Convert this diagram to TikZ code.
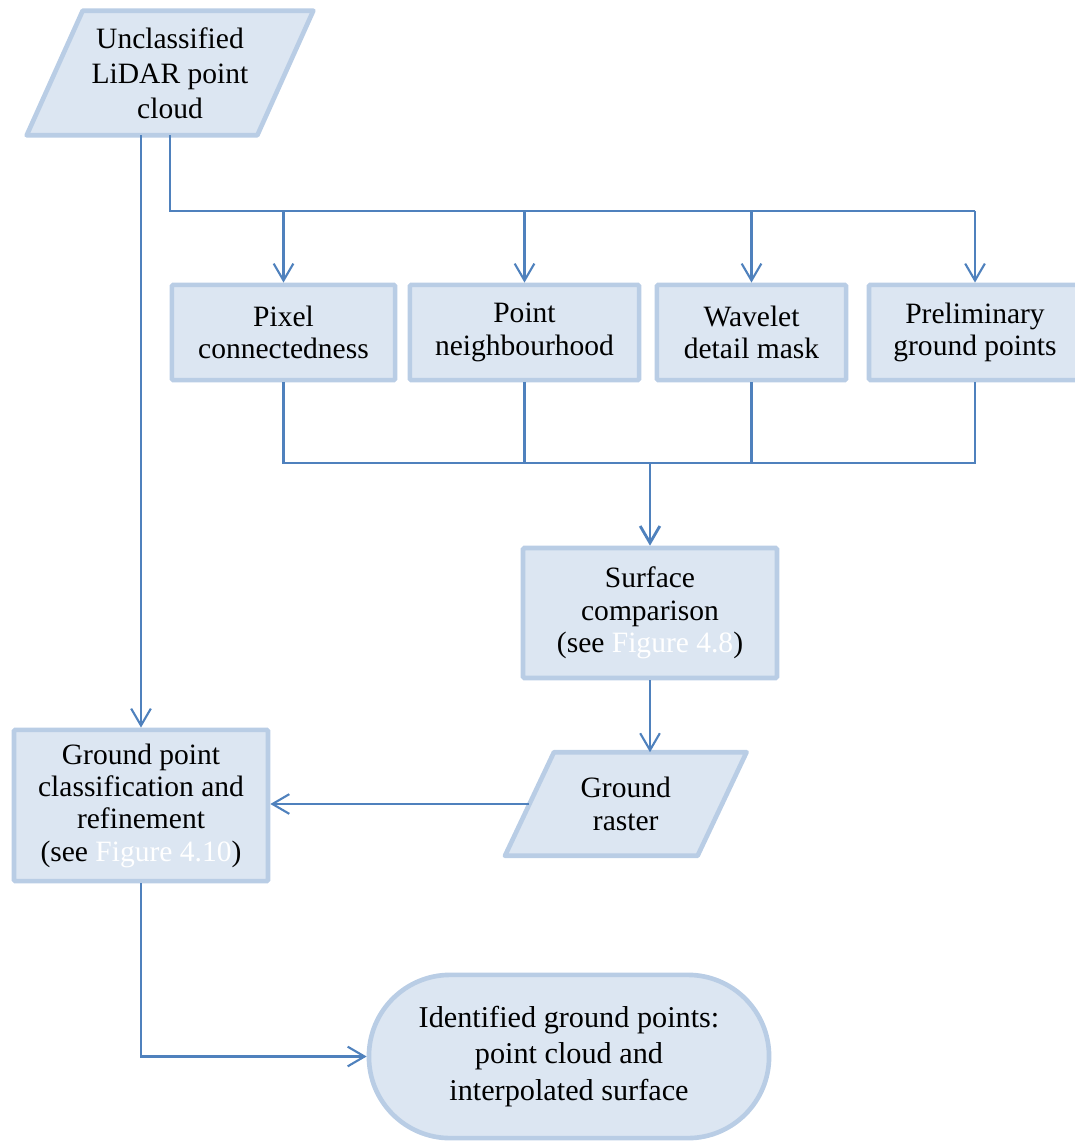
\documentclass[tikz,border=0pt]{standalone}
\usepackage{fontspec}
\setmainfont{Liberation Serif}
\usepackage{xcolor}
\usepackage{tikz}
\usetikzlibrary{shapes, arrows.meta, positioning, calc}
\definecolor{boxfill}{HTML}{DCE6F2}
\definecolor{boxedge}{HTML}{B9CDE5}
\definecolor{flowblue}{HTML}{4F81BD}

\begin{document}
\begin{tikzpicture}[x=0.025cm, y=-0.025cm,
  >={Straight Barb[length=12pt, width=14pt]},
  stepbox/.style={draw=boxedge, fill=boxfill, line width=3.3pt, rounded corners=1pt,
    align=center, inner sep=2pt, font=\fontsize{21}{23}\selectfont},
  datanode/.style={inner sep=0pt, align=center, font=\fontsize{21}{23}\selectfont},
  dataedge/.style={draw=boxedge, fill=boxfill, line width=3.3pt, line join=round},
  endbox/.style={draw=boxedge, fill=boxfill, line width=3.3pt, rounded corners=2.03cm,
    align=center, font=\fontsize{21.5}{26}\selectfont},
  link/.style={draw=flowblue, line width=1.5pt},
  mainlink/.style={draw=flowblue, line width=2pt}]
  \useasboundingbox (0,0) rectangle (1075,1141);
  % input and output data
  \node[datanode, minimum width=5.75cm, minimum height=3.1cm] (lidar) at (170,73) {};
  \node[datanode, minimum width=4.8cm, minimum height=2.575cm] (raster) at (625.75,804) {};
  \foreach \n/\s in {lidar/56, raster/49} {
    \draw[dataedge] ($(\n.north west)+(\s/2,0)$) -- ($(\n.north east)+(\s/2,0)$)
      -- ($(\n.south east)-(\s/2,0)$) -- ($(\n.south west)-(\s/2,0)$) -- cycle;
  }
  \node[datanode, font=\fontsize{21}{25}\selectfont] at (lidar) {Unclassified\\LiDAR point\\cloud};
  \node[datanode] at (raster) {Ground\\raster};
  \node[endbox, minimum width=10cm, minimum height=4.08cm] (result) at (569,1056.5)
    {Identified ground points:\\point cloud and\\interpolated surface};
  % processing steps
  \node[stepbox, minimum width=5.58cm, minimum height=2.38cm] (pixel) at (283.5,332.5)
    {Pixel\\connectedness};
  \node[stepbox, minimum width=5.73cm, minimum height=2.38cm] (point) at (524.5,332.5)
    {Point\\neighbourhood};
  \node[stepbox, minimum width=4.73cm, minimum height=2.38cm] (wavelet) at (751.5,332.5)
    {Wavelet\\detail mask};
  \node[stepbox, minimum width=5.3cm, minimum height=2.38cm] (prelim) at (975,332.5)
    {Preliminary\\ground points};
  \node[stepbox, minimum width=6.35cm, minimum height=3.25cm] (surface) at (650,613)
    {Surface\\comparison\\(see \textcolor{white}{Figure 4.8})};
  \node[stepbox, minimum width=6.35cm, minimum height=3.78cm] (ground) at (141,805.5)
    {Ground point\\classification and\\refinement\\(see \textcolor{white}{Figure 4.10})};
  % junctions
  \coordinate (split) at (975,211);
  \coordinate (merge) at (650,463);
  % connectors
  \draw[link] (lidar.south) |- (split);
  \draw[mainlink] (lidar.south) |- (wavelet.north |- split);
  \foreach \n in {pixel, point, wavelet, prelim} {
    \draw[link, ->] (\n.north |- split) -- (\n.north);
  }
  \draw[link] (pixel.south) |- (merge) -| (prelim.south);
  \draw[link] (point.south) -- (point.south |- merge);
  \draw[link] (wavelet.south) -- (wavelet.south |- merge);
  \draw[mainlink, ->] (merge) -- (surface.north);
  \draw[link, ->] (surface.south) -- (surface.south |- raster.north);
  \draw[link, ->] (lidar.south -| ground.north) -- (ground.north);
  \draw[link, ->] (raster.west) -- (raster.west -| ground.east);
  \draw[link, ->] (ground.south) |- (result.west);
\end{tikzpicture}
\end{document}
